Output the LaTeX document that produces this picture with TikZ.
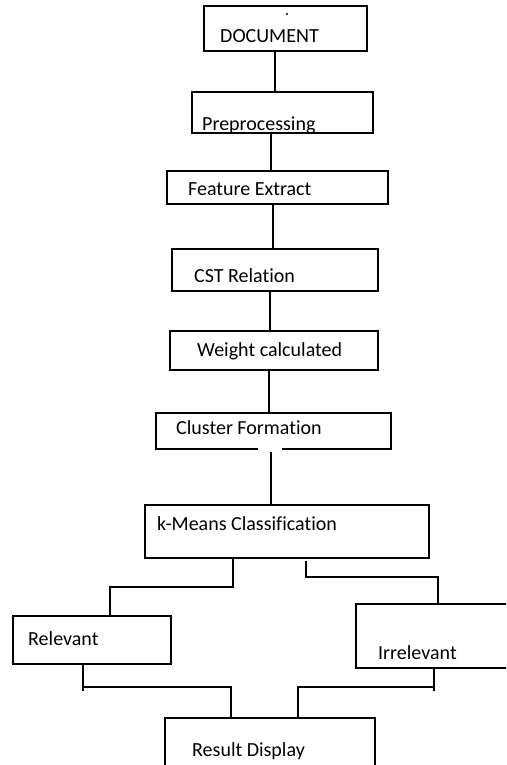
\documentclass[tikz,border=0pt]{standalone}
\usepackage{fontspec}
\setmainfont{Carlito}[Ligatures={CommonOff,ContextualOff}]
\begin{document}
\begin{tikzpicture}[x=1pt, y=-1pt,
        box/.style={draw, line width=1.3pt, inner sep=0pt, outer sep=0pt, anchor=north west},
        lbl/.style={anchor=base west, inner sep=0pt, font=\fontsize{20}{24}\selectfont},
        link/.style={line width=1.3pt}]
        \useasboundingbox (0,0) rectangle (506,765);
        \clip (0,0) rectangle (506,765);

        % Boxes
        \node[box, minimum width=163pt, minimum height=45pt] (doc) at (204,6) {};
        \node[box, minimum width=181pt, minimum height=41pt] (pre) at (192,92) {};
        \node[box, minimum width=221pt, minimum height=33pt] (feat) at (167,171) {};
        \node[box, minimum width=206pt, minimum height=42pt] (cst) at (172,249) {};
        \node[box, minimum width=208pt, minimum height=39pt] (wt) at (170,331) {};
        \node[box, minimum width=235pt, minimum height=36pt] (clu) at (156,413) {};
        \node[box, minimum width=284pt, minimum height=53pt] (km) at (145,505) {};
        \node[box, minimum width=158pt, minimum height=48pt] (rel) at (13,616) {};
        \node[box, minimum width=170pt, minimum height=64pt] (irr) at (356,604) {};
        \node[box, minimum width=210pt, minimum height=80pt] (res) at (165,718) {};

        % Labels
        \node[lbl] (doct) at (220,43) {DOCUMENT};
        \node[lbl] (pret) at (202,130) {Preprocessing};
        \node[lbl] (featt) at (188,195) {Feature Extract};
        \node[lbl] (cstt) at (194,282) {CST Relation};
        \node[lbl] (wtt) at (197,356) {Weight calculated};
        \node[lbl] (clut) at (176,434) {Cluster Formation};
        \node[lbl] (kmt) at (157,530) {k-Means Classification};
        \node[lbl] (relt) at (28,645) {Relevant};
        \node[lbl] (irrt) at (378,659) {Irrelevant};
        \node[lbl] (rest) at (192,756) {Result Display};

        % Stray dot
        \fill (287,14) circle (1.2pt);

        % Gap in the cluster box
        \draw[white, line width=2pt] ([xshift=-15.5pt]clu.south) -- ([xshift=8.5pt]clu.south);

        % Main chain
        \draw[link] ([xshift=-10.5pt]doc.south) -- ([xshift=-7.5pt]pre.north);
        \draw[link] ([xshift=-11.5pt]pre.south) -- ([xshift=-6.5pt]feat.north);
        \draw[link] ([xshift=-4.5pt]feat.south) -- ([xshift=-2pt]cst.north);
        \draw[link] ([xshift=-5pt]cst.south) -- ([xshift=-4pt]wt.north);
        \draw[link] ([xshift=-5pt]wt.south) -- ([xshift=-4.5pt]clu.north);
        \draw[link] ([xshift=-2.5pt]clu.south) ++(0,3) -- ([xshift=-16pt]km.north);

        % Split
        \draw[link] ([xshift=-54pt]km.south) -- ++(0,29) -| ([xshift=18pt]rel.north);
        \draw[link] ([xshift=19pt]km.south) ++(0,3) -- ++(0,16) -| ([xshift=-3pt]irr.north);

        % Merge
        \draw[link] ([xshift=-9pt]rel.south) -- ++(0,27);
        \draw[link] ([xshift=-9pt]rel.south) ++(0,23) -| ([xshift=-39pt]res.north);
        \draw[link] ([xshift=-7pt]irr.south) -- ++(0,23);
        \draw[link] ([xshift=-7pt]irr.south) ++(0,19) -| ([xshift=28pt]res.north);

\end{tikzpicture}
\end{document}
